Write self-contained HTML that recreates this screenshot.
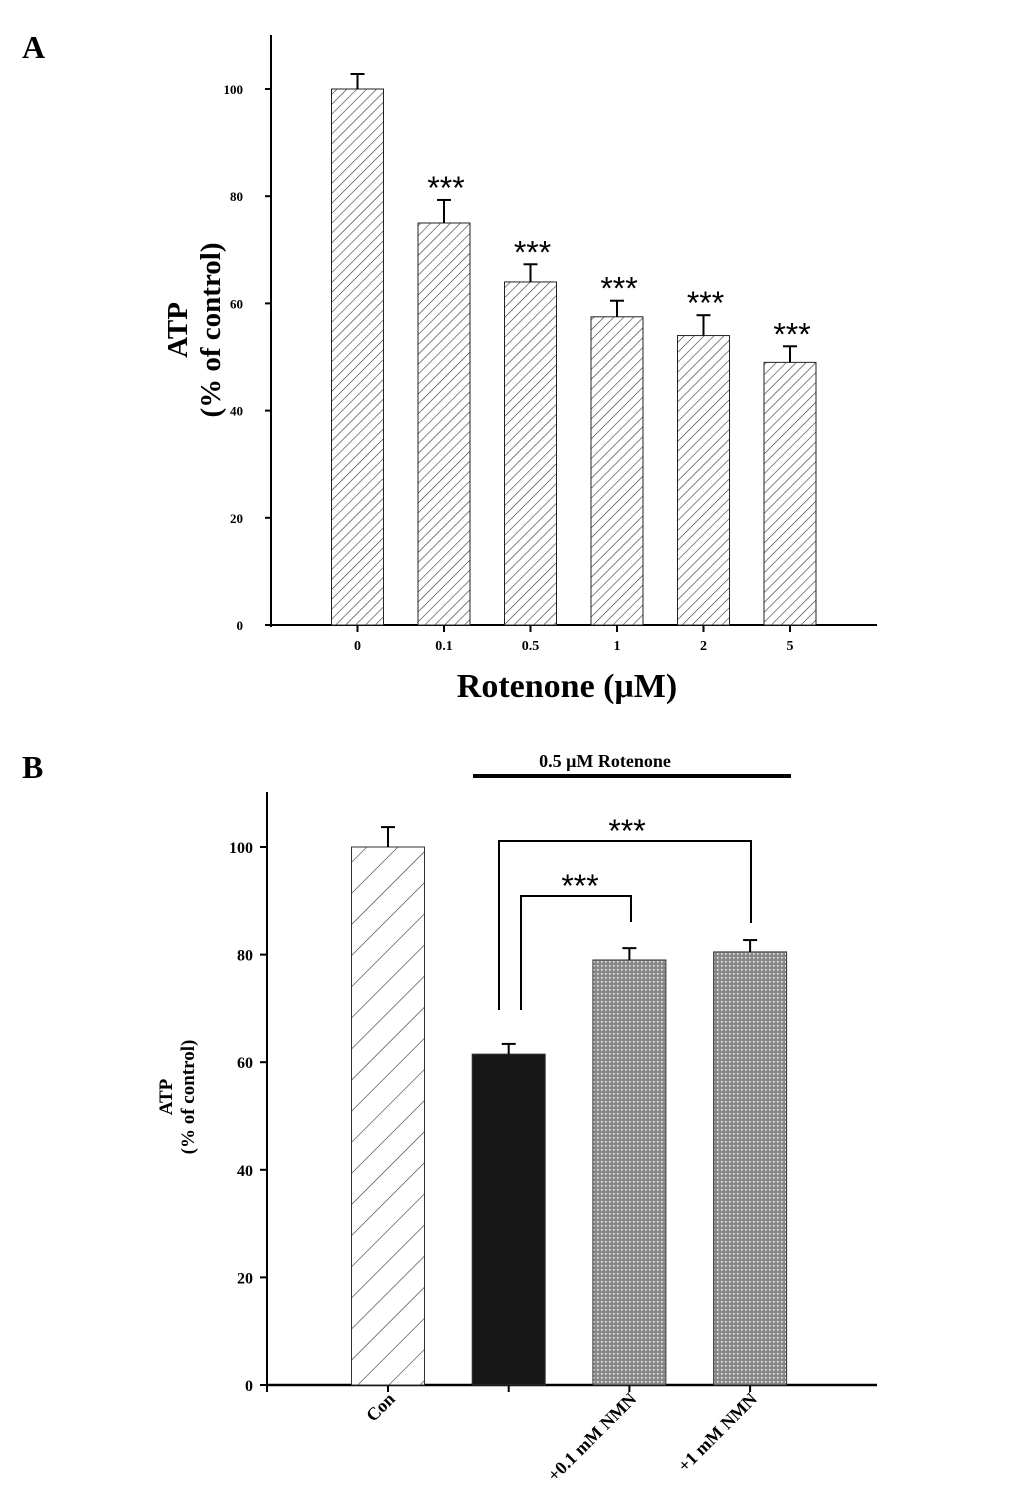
<!DOCTYPE html>
<html><head><meta charset="utf-8"><style>
body{margin:0;background:#fff}
svg{display:block;font-family:"Liberation Serif",serif;font-weight:bold}
</style></head><body>
<svg id="c" width="1033" height="1492" viewBox="0 0 1033 1492" xmlns="http://www.w3.org/2000/svg">
<defs>
<pattern id="hatchA" patternUnits="userSpaceOnUse" width="7" height="7" patternTransform="rotate(45)"><rect width="7" height="7" fill="#fff"/><line x1="0" y1="0" x2="0" y2="7" stroke="#333" stroke-width="1.2"/></pattern>
<pattern id="hatchB" patternUnits="userSpaceOnUse" width="22" height="22" patternTransform="rotate(45)"><rect width="22" height="22" fill="#fff"/><line x1="0" y1="0" x2="0" y2="22" stroke="#333" stroke-width="1.2"/></pattern>
<pattern id="dots" patternUnits="userSpaceOnUse" width="4" height="4"><rect width="4" height="4" fill="#888"/><rect x="1" y="1" width="1.6" height="1.6" fill="#eee"/></pattern>
</defs>
<text x="22" y="58" font-size="32">A</text>
<text x="22" y="778" font-size="32">B</text>
<g id="ga"></g>
<g id="gb"></g>
</svg>
<script>
const catsA=["0","0.1","0.5","1","2","5"];
const valsA=[100,75,64,57.5,54,49];
const errA=[2.8,4.3,3.3,3.0,3.8,3.0];
const sigA=["","***","***","***","***","***"];
const ticksA=[0,20,40,60,80,100];
const catsB=["Con","","+0.1 mM NMN","+1 mM NMN"];
const valsB=[100,61.5,79,80.5];
const errB=[3.7,1.9,2.2,2.2];
const ticksB=[0,20,40,60,80,100];
const NS="http://www.w3.org/2000/svg";
function mk(p,t,a,txt){const e=document.createElementNS(NS,t);for(const k in a)e.setAttribute(k,a[k]);if(txt!==undefined)e.textContent=txt;p.appendChild(e);return e;}
// Panel A
const ga=document.getElementById('ga');
const yA=v=>625-v*5.36;
const xA=i=>357.5+i*86.5;
mk(ga,'line',{x1:271,y1:35,x2:271,y2:627,stroke:'#000','stroke-width':2});
mk(ga,'line',{x1:270,y1:625,x2:877,y2:625,stroke:'#000','stroke-width':2});
ticksA.forEach(t=>{mk(ga,'line',{x1:265,y1:yA(t),x2:271,y2:yA(t),stroke:'#000','stroke-width':2});
const l=mk(ga,'text',{x:243,y:yA(t)+5,'font-size':13,'text-anchor':'end'},t);

});
catsA.forEach((c,i)=>{const x=xA(i);
mk(ga,'line',{x1:x,y1:625,x2:x,y2:632,stroke:'#000','stroke-width':2});
const l=mk(ga,'text',{x:x,y:650,'font-size':14,'text-anchor':'middle'},c);


const b=mk(ga,'rect',{x:x-26,y:yA(valsA[i]),width:52,height:625-yA(valsA[i]),fill:'url(#hatchA)',stroke:'#222','stroke-width':1});


const et=yA(valsA[i]+errA[i]);
mk(ga,'line',{x1:x,y1:yA(valsA[i]),x2:x,y2:et,stroke:'#000','stroke-width':2});
mk(ga,'line',{x1:x-7,y1:et,x2:x+7,y2:et,stroke:'#000','stroke-width':2});
if(sigA[i]){const s=mk(ga,'text',{x:x+2,y:et-1,'font-size':32,'font-weight':'normal','font-family':'Liberation Sans, sans-serif','text-anchor':'middle'},sigA[i]);

}
});
let t1=mk(ga,'text',{x:567,y:697,'font-size':34,'text-anchor':'middle'},'Rotenone (μM)');

let t2=mk(ga,'text',{transform:'translate(187,330) rotate(-90)','font-size':29,'text-anchor':'middle'},'ATP');

let t3=mk(ga,'text',{transform:'translate(220,330) rotate(-90)','font-size':29,'text-anchor':'middle'},'(% of control)');

// Panel B
const gb=document.getElementById('gb');
const yB=v=>1385-v*5.38;
const xB=i=>388+i*120.7;
const fills=['url(#hatchB)','#171717','url(#dots)','url(#dots)'];
mk(gb,'line',{x1:267,y1:792,x2:267,y2:1392,stroke:'#000','stroke-width':2});
mk(gb,'line',{x1:266,y1:1385,x2:877,y2:1385,stroke:'#000','stroke-width':2.5});
ticksB.forEach(t=>{mk(gb,'line',{x1:260,y1:yB(t),x2:267,y2:yB(t),stroke:'#000','stroke-width':2});
const l=mk(gb,'text',{x:253,y:yB(t)+6,'font-size':16,'text-anchor':'end'},t);

});
catsB.forEach((c,i)=>{const x=xB(i);
mk(gb,'line',{x1:x,y1:1385,x2:x,y2:1392,stroke:'#000','stroke-width':2});
if(c){const l=mk(gb,'text',{transform:`translate(${x+8},1400) rotate(-45)`,'font-size':18,'text-anchor':'end'},c);

}
const b=mk(gb,'rect',{x:x-36.5,y:yB(valsB[i]),width:73,height:1385-yB(valsB[i]),fill:fills[i],stroke:'#333','stroke-width':1});


const et=yB(valsB[i]+errB[i]);
mk(gb,'line',{x1:x,y1:yB(valsB[i]),x2:x,y2:et,stroke:'#000','stroke-width':2});
mk(gb,'line',{x1:x-7,y1:et,x2:x+7,y2:et,stroke:'#000','stroke-width':2});
});
mk(gb,'polyline',{points:'499,1010 499,841 751,841 751,923',fill:'none',stroke:'#000','stroke-width':2});
mk(gb,'polyline',{points:'521,1010 521,896 631,896 631,922',fill:'none',stroke:'#000','stroke-width':2});
let s1=mk(gb,'text',{x:627,y:842,'font-size':32,'font-weight':'normal','font-family':'Liberation Sans, sans-serif','text-anchor':'middle'},'***');

let s2=mk(gb,'text',{x:580,y:897,'font-size':32,'font-weight':'normal','font-family':'Liberation Sans, sans-serif','text-anchor':'middle'},'***');

mk(gb,'line',{x1:473,y1:776,x2:791,y2:776,stroke:'#000','stroke-width':4});
let r=mk(gb,'text',{x:605,y:767,'font-size':18,'text-anchor':'middle'},'0.5 μM Rotenone');

let t4=mk(gb,'text',{transform:'translate(172,1097) rotate(-90)','font-size':19,'text-anchor':'middle'},'ATP');

let t5=mk(gb,'text',{transform:'translate(194,1097) rotate(-90)','font-size':19,'text-anchor':'middle'},'(% of control)');

</script>
</body></html>
